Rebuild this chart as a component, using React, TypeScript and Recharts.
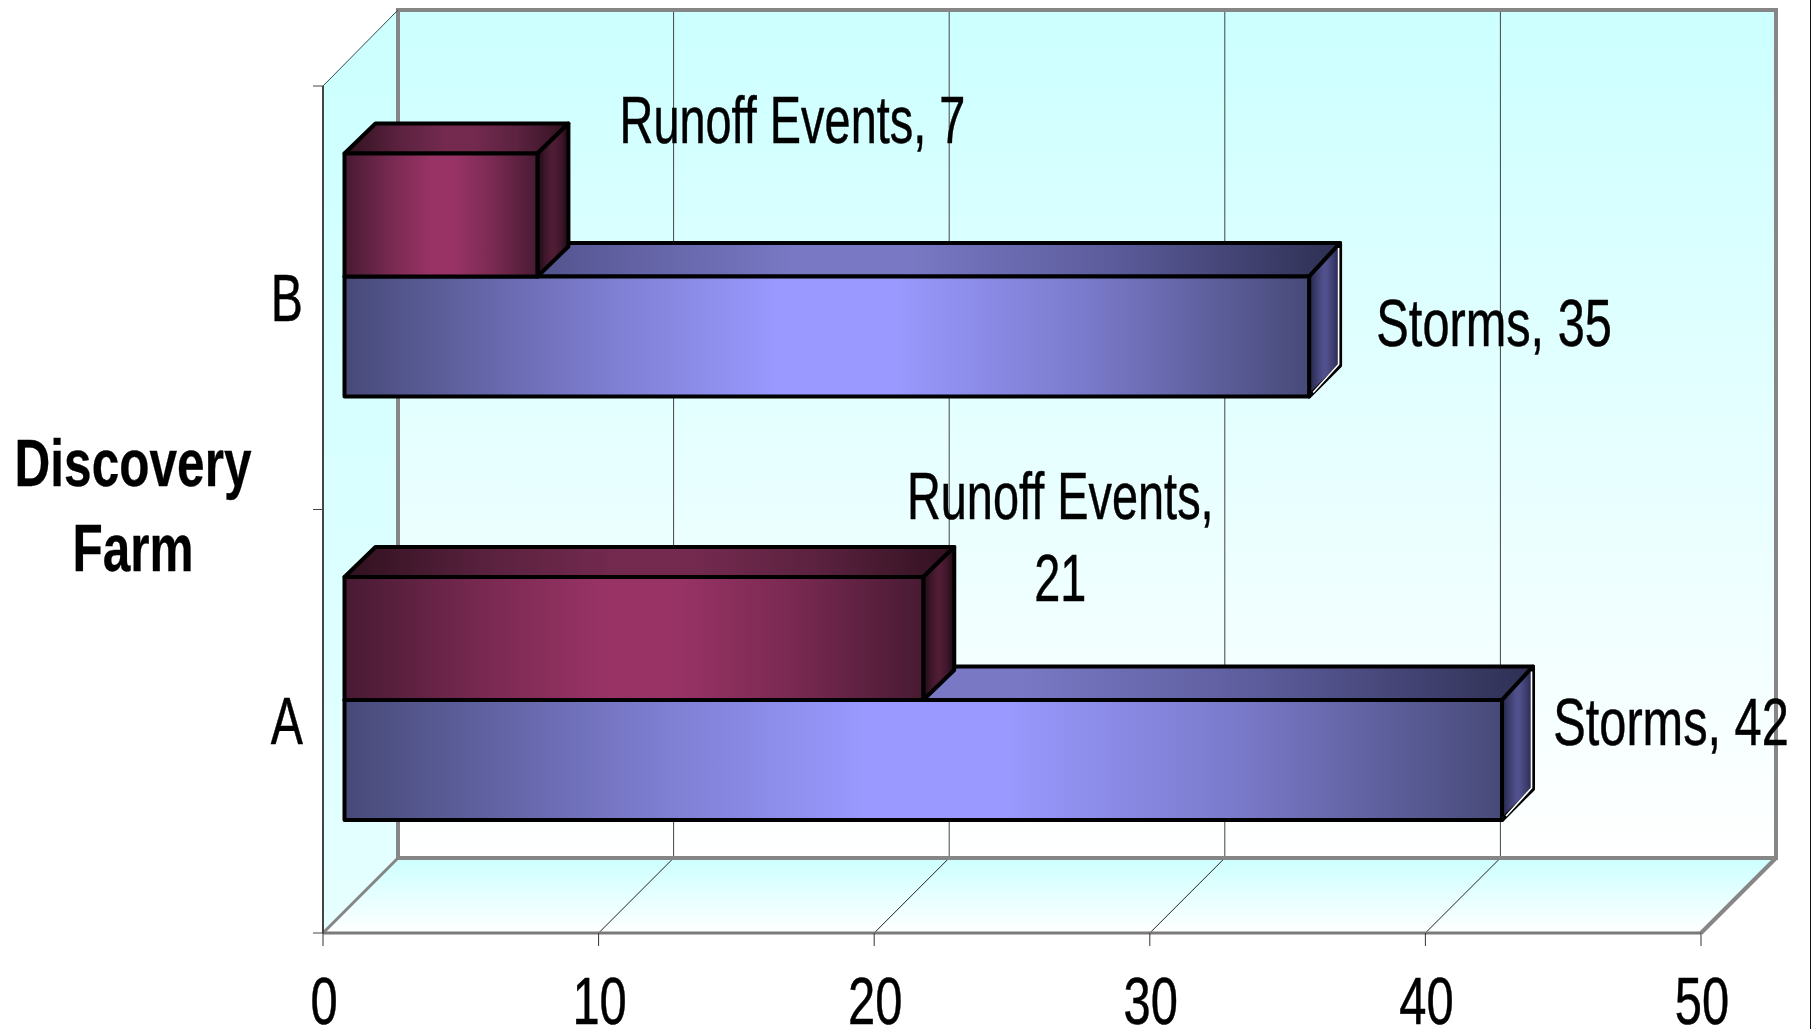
import React from 'react';
import { BarChart, Bar, XAxis, YAxis, LabelList, usePlotArea } from 'recharts';

const categories = ['B', 'A'];
const runoffEvents = [7, 21];
const storms = [35, 42];
const xTicks = [0, 10, 20, 30, 40, 50];
const axisTitle = ['Discovery', 'Farm'];

const table = categories.map((farm, i) => ({ farm, runoff: runoffEvents[i], storms: storms[i] }));

const runoffPlacement = [
  { dx: 255, dy: [-73.5], lines: ['Runoff Events, 7'] },
  { dx: 137, dy: [-121, -39], lines: ['Runoff Events,', '21'] },
];
const stormPlacement = [
  { dx: 185, dy: [9], lines: ['Storms, 35'] },
  { dx: 169, dy: [-15], lines: ['Storms, 42'] },
];

const W = 1811;
const H = 1029;
const DEPTH = 75; // wall depth in px
const BAR_SHIFT = 21.5; // the bars stand this far inside the depth
const BAR_DX = 31;
const MAX = 50;

type TextProps = { x: number; y: number; anchor?: string; bold?: boolean; sx?: number; children: React.ReactNode };
const Squeezed = ({ x, y, anchor = 'middle', bold = false, sx = 0.72, children }: TextProps) => (
  <text
    transform={`translate(${x} ${y}) scale(${bold ? 0.74 : sx} 1)`}
    textAnchor={anchor}
    fontFamily="'Liberation Sans', Arial, sans-serif"
    fontWeight={bold ? 700 : 400}
    fontSize={67}
    fill="#000"
    stroke="#000"
    strokeWidth={bold ? 0.3 : 0.5}
  >
    {children}
  </text>
);

const Stops = ({ id, edge, quarter, mid }: { id: string; edge: string; quarter: string; mid: string }) => (
  <linearGradient id={id} x1="0" y1="0" x2="1" y2="0">
    <stop offset="0" stopColor={edge} />
    <stop offset="0.25" stopColor={quarter} />
    <stop offset="0.45" stopColor={mid} />
    <stop offset="0.57" stopColor={mid} />
    <stop offset="0.77" stopColor={quarter} />
    <stop offset="1" stopColor={edge} />
  </linearGradient>
);

const Defs = () => (
  <defs>
    <Stops id="stormFront" edge="#474a78" quarter="#7a7acb" mid="#9999ff" />
    <Stops id="stormTop" edge="#2e2f52" quarter="#5c5c9c" mid="#7878c4" />
    <Stops id="stormSide" edge="#24264a" quarter="#3e3e70" mid="#50508c" />
    <Stops id="runoffFront" edge="#481a32" quarter="#7a2a52" mid="#993366" />
    <Stops id="runoffTop" edge="#30111f" quarter="#5c2240" mid="#732a4e" />
    <Stops id="runoffSide" edge="#1c0b13" quarter="#3e162a" mid="#4e1c34" />
    <linearGradient id="backWall" x1="0" y1="0" x2="0" y2="1">
      <stop offset="0" stopColor="#ccffff" />
      <stop offset="1" stopColor="#ffffff" />
    </linearGradient>
    <linearGradient id="sideWall" x1="0" y1="0" x2="0" y2="1">
      <stop offset="0" stopColor="#ccffff" />
      <stop offset="1" stopColor="#e6ffff" />
    </linearGradient>
    <linearGradient id="floorWall" x1="0" y1="0" x2="0" y2="1">
      <stop offset="0" stopColor="#ccffff" />
      <stop offset="1" stopColor="#ffffff" />
    </linearGradient>
  </defs>
);

const Walls = () => {
  const plot = usePlotArea();
  if (!plot) return null;
  const { x, y, width, height } = plot;
  const bottom = y + height;
  const right = x + width;
  const d = DEPTH;
  const backTop = y - 76;
  const backBottom = bottom - d;
  const sx = (v: number) => x + (v / MAX) * width;
  return (
    <g>
      <rect x={x + d} y={backTop} width={width} height={backBottom - backTop} fill="url(#backWall)" />
      <polygon
        points={`${x},${y} ${x + d},${backTop} ${x + d},${backBottom} ${x},${bottom}`}
        fill="url(#sideWall)"
      />
      <polygon
        points={`${x},${bottom} ${x + d},${backBottom} ${right + d},${backBottom} ${right},${bottom}`}
        fill="url(#floorWall)"
      />
      {xTicks.slice(1, -1).map((t) => (
        <g key={t}>
          <line x1={sx(t) + d} x2={sx(t) + d} y1={backTop} y2={backBottom} stroke="#444" strokeWidth={1} />
          <line x1={sx(t)} x2={sx(t) + d} y1={bottom} y2={backBottom} stroke="#222" strokeWidth={1} />
        </g>
      ))}
      <polyline
        points={`${x + d},${backBottom} ${x + d},${backTop} ${right + d},${backTop} ${right + d},${backBottom} ${x + d},${backBottom}`}
        fill="none"
        stroke="#868686"
        strokeWidth={4}
      />
      <line x1={x} y1={bottom} x2={x + d} y2={backBottom} stroke="#868686" strokeWidth={3} />
      <line x1={right} y1={bottom} x2={right + d} y2={backBottom} stroke="#868686" strokeWidth={4} />
      <line x1={x} y1={y} x2={x + d} y2={backTop} stroke="#2f4f4f" strokeWidth={1} />
      {[0, 0.5, 1].map((f) => (
        <line key={f} x1={x - 10} x2={x} y1={y + f * height} y2={y + f * height} stroke="#444" strokeWidth={1} />
      ))}
    </g>
  );
};

type BoxStyle = { prefix: string; highlight: boolean; raise: number; topDepth: number; bottomDepth: number };

const box = ({ prefix, highlight, raise, topDepth, bottomDepth }: BoxStyle) => (props: any) => {
  const left = props.x + BAR_SHIFT;
  const top = props.y - BAR_SHIFT - raise;
  const w = props.width;
  const h = props.height + raise;
  const r = left + w;
  const b = top + h;
  const stroke = { stroke: '#000', strokeWidth: 4, strokeLinejoin: 'round' as const };
  return (
    <g>
      <polygon
        points={`${left},${top} ${left + BAR_DX},${top - topDepth} ${r + BAR_DX},${top - topDepth} ${r},${top}`}
        fill={`url(#${prefix}Top)`}
        {...stroke}
      />
      <polygon
        points={`${r},${top} ${r + BAR_DX},${top - topDepth} ${r + BAR_DX},${b - bottomDepth} ${r},${b}`}
        fill={`url(#${prefix}Side)`}
        {...stroke}
      />
      <rect x={left} y={top} width={w} height={h} fill={`url(#${prefix}Front)`} {...stroke} />
      {highlight && (
        <polyline
          points={`${r + BAR_DX - 1.5},${top - topDepth + 5} ${r + BAR_DX - 1.5},${b - bottomDepth - 1} ${r + 4},${b - 4}`}
          fill="none"
          stroke="#fff"
          strokeWidth={1.6}
        />
      )}
    </g>
  );
};

const barLabel = (placement: { dx: number; dy: number[]; lines: string[] }[], sx: number) => (props: any) => {
  const p = placement[props.index];
  if (!p) return null;
  const endX = props.x + props.width + BAR_SHIFT;
  const midY = props.y + props.height / 2 - BAR_SHIFT;
  return (
    <g>
      {p.lines.map((line, i) => (
        <Squeezed key={i} x={endX + p.dx} y={midY + p.dy[i]} sx={sx}>
          {line}
        </Squeezed>
      ))}
    </g>
  );
};

const XTick = (props: any) => (
  <Squeezed x={props.x + 1} y={H - 5} sx={0.73}>
    {props.payload.value}
  </Squeezed>
);

const YTick = (props: any) => (
  <Squeezed x={303} y={props.y + 23} anchor="end">
    {props.payload.value}
  </Squeezed>
);

const AxisTitle = (props: any) => {
  const mid = props.viewBox.y + props.viewBox.height / 2;
  return (
    <g>
      <Squeezed x={133} y={mid - 23.5} bold>
        {axisTitle[0]}
      </Squeezed>
      <Squeezed x={133} y={mid + 61.5} bold>
        {axisTitle[1]}
      </Squeezed>
    </g>
  );
};

export default function App() {
  return (
    <div
      style={{
        position: 'absolute',
        left: 0,
        top: 0,
        width: W,
        height: H,
        background: '#fff',
        overflow: 'hidden',
        boxShadow: 'inset -1px 0 0 #111',
      }}
    >
      <BarChart
        width={W}
        height={H}
        data={table}
        layout="vertical"
        margin={{ top: 86, right: 110, bottom: 0, left: 0 }}
        barSize={120}
        barGap={-240}
      >
        <Defs />
        <Walls />
        <XAxis
          type="number"
          domain={[0, MAX]}
          ticks={xTicks}
          height={96}
          axisLine={{ stroke: '#7a7a7a', strokeWidth: 3 }}
          tickLine={{ stroke: '#333', strokeWidth: 1 }}
          tickSize={13}
          interval={0}
          tick={<XTick />}
        />
        <YAxis
          type="category"
          dataKey="farm"
          width={323}
          axisLine={{ stroke: '#444', strokeWidth: 2 }}
          tickLine={false}
          tick={<YTick />}
          label={{ content: <AxisTitle /> }}
        />
        <Bar
          dataKey="storms"
          name="Storms"
          shape={box({ prefix: 'storm', highlight: true, raise: 0, topDepth: 33.5, bottomDepth: 31 })}
          isAnimationActive={false}
        >
          <LabelList dataKey="storms" content={barLabel(stormPlacement, 0.727)} />
        </Bar>
        <Bar
          dataKey="runoff"
          name="Runoff Events"
          shape={box({ prefix: 'runoff', highlight: false, raise: 3, topDepth: 30, bottomDepth: 30 })}
          isAnimationActive={false}
        >
          <LabelList dataKey="runoff" content={barLabel(runoffPlacement, 0.7)} />
        </Bar>
      </BarChart>
    </div>
  );
}
